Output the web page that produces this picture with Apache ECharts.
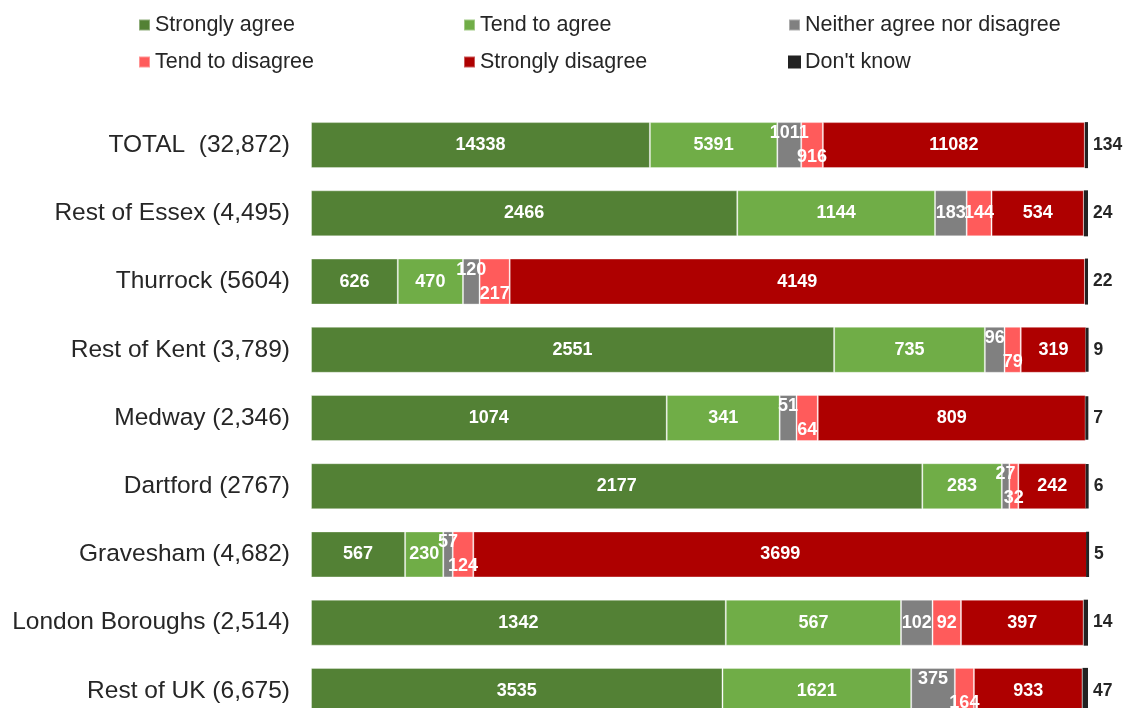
<!DOCTYPE html>
<html>
<head>
<meta charset="utf-8">
<script src="https://cdn.jsdelivr.net/npm/echarts@6/dist/echarts.min.js"></script>
<style>
  html, body { margin: 0; padding: 0; background: #fff; overflow: hidden; }
  /* the last bar runs off the bottom of the picture, so the chart is a bit taller than the window */
  #chart { width: 1125px; height: 725px; }
</style>
</head>
<body>
<div id="chart"></div>
<script>
// categories, top to bottom
const categories = ['TOTAL  (32,872)', 'Rest of Essex (4,495)', 'Thurrock (5604)', 'Rest of Kent (3,789)',
  'Medway (2,346)', 'Dartford (2767)', 'Gravesham (4,682)', 'London Boroughs (2,514)', 'Rest of UK (6,675)'];
const seriesNames = ['Strongly agree', 'Tend to agree', 'Neither agree nor disagree',
  'Tend to disagree', 'Strongly disagree', "Don't know"];

// raw response counts per category
const stronglyAgree = [14338, 2466, 626, 2551, 1074, 2177, 567, 1342, 3535];
const tendToAgree = [5391, 1144, 470, 735, 341, 283, 230, 567, 1621];
const neither = [1011, 183, 120, 96, 51, 27, 57, 102, 375];
const tendToDisagree = [916, 144, 217, 79, 64, 32, 124, 92, 164];
const stronglyDisagree = [11082, 534, 4149, 319, 809, 242, 3699, 397, 933];
const dontKnow = [134, 24, 22, 9, 7, 6, 5, 14, 47];

const colors = ['#538135', '#70ad47', '#808080', '#ff5b5b', '#ae0000', '#222222'];

const allSeries = [stronglyAgree, tendToAgree, neither, tendToDisagree, stronglyDisagree, dontKnow];
const totals = categories.map((c, i) => allSeries.reduce((s, arr) => s + arr[i], 0));

// small neighbouring segments get their labels staggered (one above, one below)
function isTight(i) {
  const a = neither[i] / totals[i] * 100;
  const b = tendToDisagree[i] / totals[i] * 100;
  return Math.min(a, b) < 3;
}

function buildData(arr, sIdx) {
  return arr.map((v, i) => {
    const item = { value: v / totals[i] * 100, raw: v };
    if (isTight(i) && sIdx === 2) item.label = { position: 'insideTop', distance: 2 };
    if (isTight(i) && sIdx === 3) item.label = { position: 'insideBottom', distance: 2 };
    return item;
  });
}

const chart = echarts.init(document.getElementById('chart'));

const legendBase = {
  orient: 'vertical',
  top: 14,
  padding: 0,
  itemWidth: 11,
  itemHeight: 11,
  itemGap: 15,
  icon: 'rect',
  textStyle: { fontSize: 21.5, lineHeight: 22, color: '#262626', fontFamily: 'Liberation Sans, Arial' }
};

const option = {
  animation: false,
  legend: [
    Object.assign({}, legendBase, { left: 138, data: [seriesNames[0], seriesNames[3]] }),
    Object.assign({}, legendBase, { left: 463, data: [seriesNames[1], seriesNames[4]] }),
    Object.assign({}, legendBase, { left: 788, data: [seriesNames[2], seriesNames[5]] })
  ],
  grid: { left: 311, right: 37, top: 111, bottom: 0 },
  xAxis: { type: 'value', min: 0, max: 100, show: false },
  yAxis: {
    type: 'category',
    inverse: true,
    data: categories,
    axisLine: { show: false },
    axisTick: { show: false },
    axisLabel: { fontSize: 24.5, color: '#262626', margin: 21, fontFamily: 'Liberation Sans, Arial' }
  },
  series: allSeries.map((arr, sIdx) => ({
    name: seriesNames[sIdx],
    type: 'bar',
    stack: 'total',
    barWidth: 46,
    itemStyle: sIdx === 5
      ? { color: colors[sIdx], borderColor: colors[sIdx], borderWidth: 3 }
      : { color: colors[sIdx], borderColor: 'rgba(255,255,255,0.35)', borderWidth: 1 },
    label: {
      show: true,
      position: sIdx === 5 ? 'right' : 'inside',
      distance: 5,
      color: sIdx === 5 ? '#262626' : '#fff',
      fontWeight: 'bold',
      fontSize: sIdx === 5 ? 17.5 : 18,
      fontFamily: 'Liberation Sans, Arial',
      formatter: p => p.data.raw
    },
    data: buildData(arr, sIdx)
  }))
};

chart.setOption(option);
</script>
</body>
</html>
